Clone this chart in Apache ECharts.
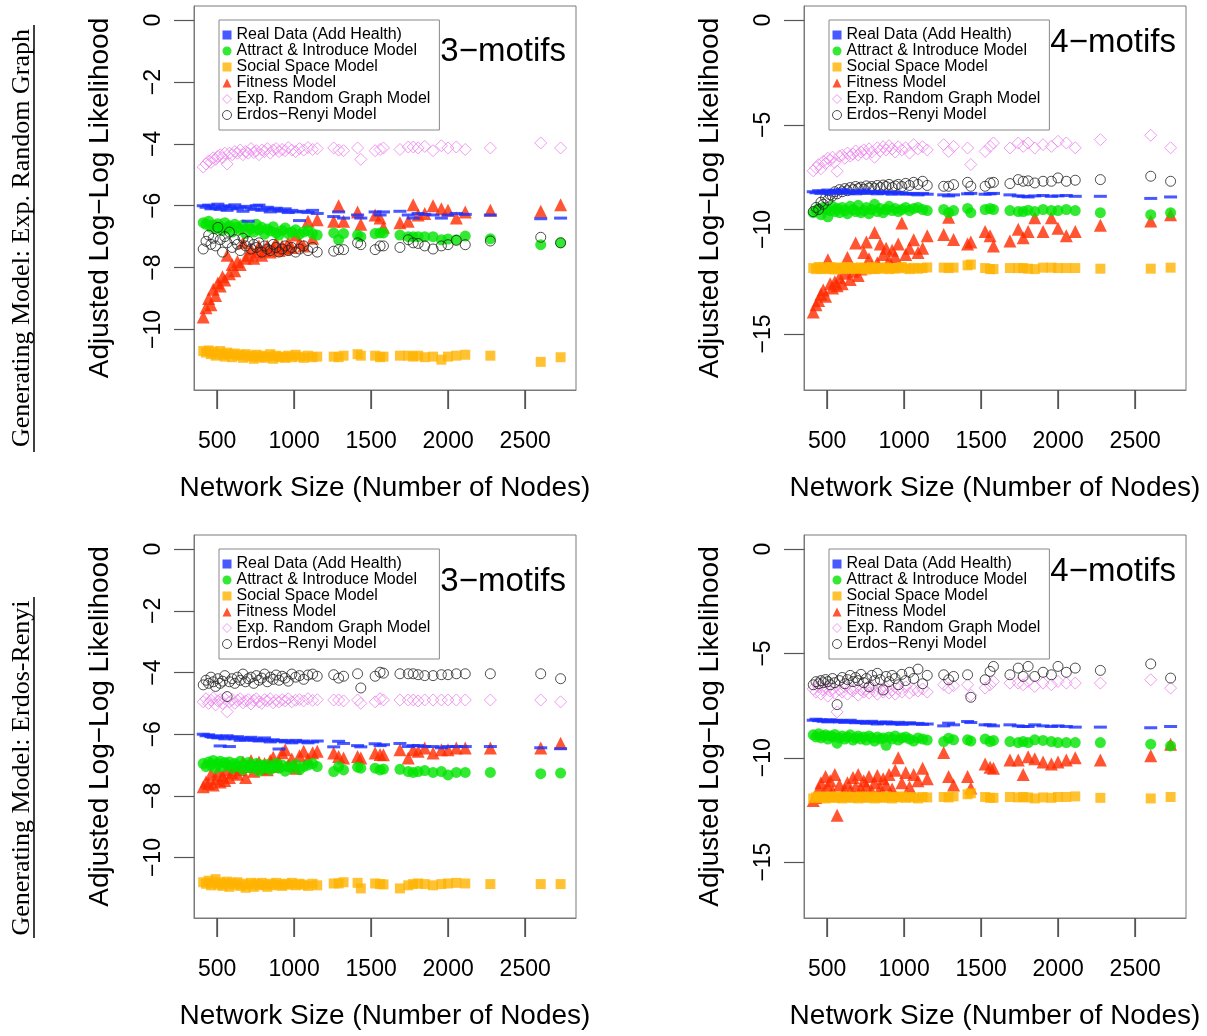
<!DOCTYPE html>
<html lang="en">
<head>
<meta charset="UTF-8">
<title>Adjusted Log-Log Likelihood vs Network Size</title>
<style>
  html, body { margin: 0; padding: 0; background: #fff; }
  #main { width: 1207px; height: 1036px; }
</style>
</head>
<body>
<div id="main"></div>
<script src="https://cdn.jsdelivr.net/npm/echarts@6/dist/echarts.min.js"></script>
<script>
// network sizes (same schools in every panel): 40 dense + 21 sparse
const sizes = [
  410, 428, 445, 460, 475, 490, 505, 520, 535, 550,
  565, 580, 598, 615, 632, 650, 668, 685, 702, 720,
  738, 755, 772, 790, 808, 826, 845, 864, 883, 902,
  922, 942, 962, 985, 1010, 1035, 1062, 1090, 1120, 1150,
  1257, 1289, 1321, 1412, 1433, 1526, 1558, 1580, 1687, 1741,
  1773, 1805, 1848, 1902, 1956, 1999, 2053, 2111, 2274, 2601, 2730
];

// ---- panel A: 3-motifs, generating model Exp. Random Graph
const realA = [
  -6.00, -6.05, -5.98, -6.10, -6.02, -6.08, -5.95, -6.12, -6.05, -6.00,
  -6.15, -6.03, -6.08, -5.97, -6.10, -6.05, -6.18, -6.02, -6.50, -6.08,
  -6.12, -6.00, -5.98, -6.15, -6.10, -6.05, -6.20, -6.12, -6.08, -6.15,
  -6.18, -6.10, -6.22, -6.15, -6.20, -6.48, -6.18, -6.22, -6.15, -6.25,
  -6.35, -6.20, -6.40, -6.30, -6.40, -6.20, -6.30, -6.20, -6.18, -6.30,
  -6.40, -6.25, -6.28, -6.30, -6.40, -6.30, -6.25, -6.28, -6.30, -6.42, -6.40
];
const attrA = [
  -6.55, -6.60, -6.50, -6.70, -6.62, -6.75, -6.58, -6.68, -6.80, -6.55,
  -6.72, -6.65, -6.85, -6.60, -6.70, -6.78, -6.62, -6.90, -6.68, -6.75,
  -6.85, -6.60, -6.78, -6.70, -6.92, -6.75, -6.82, -6.68, -6.88, -6.95,
  -6.80, -6.72, -6.90, -6.85, -6.78, -6.92, -6.85, -6.80, -6.90, -6.95,
  -6.88, -7.10, -6.90, -6.95, -7.00, -6.90, -6.88, -6.88, -6.95, -7.00,
  -7.00, -7.00, -7.00, -7.00, -7.10, -7.08, -7.10, -6.98, -7.07, -7.26, -7.20
];
const socialA = [
  -10.70, -10.75, -10.68, -10.80, -10.72, -10.85, -10.78, -10.70, -10.82, -10.88,
  -10.75, -10.80, -10.90, -10.78, -10.85, -10.82, -10.92, -10.80, -10.88, -10.85,
  -10.95, -10.82, -10.90, -10.85, -10.92, -10.88, -10.80, -10.95, -10.85, -10.90,
  -10.88, -10.92, -10.85, -10.90, -10.82, -10.88, -10.92, -10.85, -10.90, -10.88,
  -10.88, -10.90, -10.85, -10.80, -10.85, -10.85, -10.90, -10.88, -10.85, -10.85,
  -10.88, -10.85, -10.90, -10.88, -10.98, -10.88, -10.85, -10.82, -10.85, -11.05, -10.90
];
const fitnessA = [
  -9.60, -9.30, -9.00, -9.20, -8.70, -8.90, -8.50, -8.60, -8.30, -8.40,
  -7.60, -8.20, -7.90, -8.10, -7.80, -7.90, -7.20, -7.70, -7.60, -7.40,
  -7.70, -7.50, -7.30, -7.60, -7.45, -7.30, -7.50, -7.35, -7.20, -7.45,
  -7.30, -7.40, -7.20, -7.35, -6.95, -7.20, -7.30, -6.50, -7.05, -6.45,
  -6.50, -6.00, -6.50, -6.20, -6.60, -6.30, -6.40, -6.70, -6.55, -6.50,
  -5.97, -6.30, -6.25, -6.00, -6.10, -6.15, -6.40, -6.20, -6.15, -6.18, -5.97
];
const ergA = [
  -4.75, -4.65, -4.55, -4.60, -4.45, -4.50, -4.40, -4.35, -4.45, -4.30,
  -4.65, -4.30, -4.35, -4.25, -4.30, -4.20, -4.35, -4.25, -4.30, -4.15,
  -4.28, -4.22, -4.35, -4.20, -4.25, -4.15, -4.30, -4.20, -4.15, -4.25,
  -4.18, -4.22, -4.12, -4.20, -4.25, -4.15, -4.20, -4.12, -4.18, -4.15,
  -4.13, -4.20, -4.22, -4.13, -4.50, -4.22, -4.18, -4.13, -4.18, -4.10,
  -4.10, -4.13, -4.08, -4.22, -4.06, -4.13, -4.10, -4.18, -4.13, -3.97, -4.13
];
const erA = [
  -7.40, -7.15, -6.95, -7.25, -7.05, -7.30, -6.70, -7.10, -7.50, -7.00,
  -7.20, -6.85, -7.35, -7.10, -7.25, -7.45, -7.05, -7.30, -7.15, -7.40,
  -7.25, -7.35, -7.20, -7.50, -7.30, -7.40, -7.45, -7.25, -7.35, -7.50,
  -7.40, -7.30, -7.45, -7.35, -7.50, -7.40, -7.30, -7.45, -7.35, -7.50,
  -7.47, -7.42, -7.42, -7.20, -7.26, -7.42, -7.30, -7.30, -7.35, -7.10,
  -7.20, -7.22, -7.30, -7.40, -7.30, -7.26, -7.12, -7.26, -7.14, -7.02, -7.20
];

// ---- panel B: 4-motifs, generating model Exp. Random Graph
const realB = [
  -8.20, -8.25, -8.15, -8.28, -8.18, -8.22, -8.12, -8.30, -8.20, -8.15,
  -8.25, -8.18, -8.10, -8.28, -8.20, -8.15, -8.25, -8.30, -8.18, -8.22,
  -8.12, -8.28, -8.20, -8.25, -8.18, -8.30, -8.22, -8.28, -8.20, -8.25,
  -8.32, -8.22, -8.28, -8.25, -8.32, -8.28, -8.30, -8.35, -8.28, -8.32,
  -8.35, -8.40, -8.35, -8.30, -8.28, -8.32, -8.30, -8.28, -8.35, -8.40,
  -8.42, -8.45, -8.40, -8.38, -8.42, -8.40, -8.38, -8.42, -8.42, -8.52, -8.45
];
const attrB = [
  -9.20, -9.10, -9.00, -9.30, -8.95, -9.05, -9.40, -9.10, -8.90, -9.15,
  -9.00, -9.20, -8.95, -9.10, -9.25, -8.90, -9.05, -9.15, -8.85, -9.20,
  -9.10, -8.95, -9.25, -9.05, -8.80, -9.15, -9.00, -9.20, -9.05, -8.90,
  -9.10, -9.00, -9.15, -9.05, -8.95, -9.10, -9.00, -8.95, -9.05, -9.10,
  -9.05, -9.20, -9.10, -9.00, -9.20, -9.05, -9.00, -9.05, -9.10, -9.15,
  -9.15, -9.08, -9.15, -9.05, -9.10, -9.10, -9.05, -9.10, -9.20, -9.30, -9.20
];
const socialB = [
  -11.85, -11.90, -11.80, -11.88, -11.82, -11.90, -11.85, -11.80, -11.88, -11.92,
  -11.85, -11.82, -11.90, -11.86, -11.80, -11.88, -11.84, -11.90, -11.85, -11.82,
  -11.88, -11.92, -11.85, -11.80, -11.90, -11.86, -11.84, -11.88, -11.82, -11.90,
  -11.85, -11.88, -11.84, -11.80, -11.86, -11.90, -11.84, -11.88, -11.85, -11.82,
  -11.83, -11.85, -11.83, -11.72, -11.68, -11.85, -11.90, -11.90, -11.85, -11.85,
  -11.85, -11.88, -11.90, -11.83, -11.83, -11.85, -11.85, -11.85, -11.88, -11.88, -11.83
];
const fitnessB = [
  -13.95, -13.60, -13.40, -13.10, -12.90, -13.20, -11.45, -12.60, -12.80, -12.50,
  -12.70, -12.30, -12.60, -12.10, -11.35, -12.40, -12.00, -10.65, -12.20, -11.90,
  -11.10, -10.60, -11.40, -11.80, -10.15, -11.60, -10.70, -11.20, -10.90, -11.50,
  -11.00, -11.30, -10.70, -9.70, -11.20, -10.90, -10.50, -11.10, -10.90, -10.30,
  -10.24, -9.42, -10.48, -10.70, -10.60, -10.10, -10.30, -10.80, -10.56, -10.00,
  -10.40, -10.10, -9.45, -10.10, -9.45, -9.95, -10.30, -10.10, -9.80, -9.60, -9.30
];
const ergB = [
  -7.20, -7.05, -6.90, -7.10, -6.75, -6.85, -6.60, -6.70, -6.55, -6.80,
  -7.22, -6.50, -6.45, -6.60, -6.35, -6.50, -6.40, -6.25, -6.45, -6.30,
  -6.20, -6.40, -6.15, -6.30, -6.55, -6.10, -6.25, -6.05, -6.20, -6.00,
  -6.15, -6.30, -6.05, -6.20, -6.10, -6.35, -5.95, -6.15, -6.05, -6.20,
  -5.95, -6.27, -6.03, -6.11, -6.90, -6.27, -6.03, -5.87, -6.11, -5.87,
  -6.03, -5.87, -6.11, -5.95, -6.03, -5.79, -5.87, -6.10, -5.71, -5.50, -6.10
];
const erB = [
  -9.15, -8.95, -9.05, -8.70, -8.80, -8.50, -8.60, -8.35, -8.40, -8.20,
  -8.30, -8.10, -8.20, -8.05, -8.15, -8.00, -8.10, -7.95, -8.05, -7.98,
  -8.08, -7.92, -8.02, -7.95, -8.05, -7.90, -8.00, -7.88, -7.95, -7.85,
  -8.00, -7.92, -7.85, -7.95, -7.80, -7.90, -7.75, -7.85, -7.70, -7.90,
  -7.94, -7.94, -7.86, -7.75, -7.94, -7.94, -7.78, -7.75, -7.81, -7.62,
  -7.70, -7.68, -7.78, -7.70, -7.70, -7.54, -7.70, -7.65, -7.62, -7.46, -7.70
];

// ---- panel C: 3-motifs, generating model Erdos-Renyi
const realC = [
  -6.00, -6.05, -6.02, -6.08, -6.10, -6.05, -6.12, -6.38, -6.08, -6.15,
  -6.05, -6.40, -6.10, -6.15, -6.08, -6.20, -6.12, -6.18, -6.15, -6.10,
  -6.20, -6.15, -6.22, -6.18, -6.12, -6.20, -6.25, -6.18, -6.22, -6.48,
  -6.20, -6.25, -6.22, -6.28, -6.20, -6.25, -6.22, -6.28, -6.25, -6.22,
  -6.41, -6.23, -6.30, -6.37, -6.41, -6.31, -6.37, -6.34, -6.30, -6.40,
  -6.37, -6.37, -6.40, -6.40, -6.44, -6.40, -6.40, -6.40, -6.40, -6.44, -6.47
];
const attrC = [
  -6.95, -7.05, -6.90, -7.00, -6.85, -7.10, -6.95, -6.88, -7.05, -6.92,
  -7.00, -6.90, -7.10, -6.95, -7.05, -6.88, -7.15, -7.00, -6.92, -7.10,
  -7.05, -6.95, -7.20, -7.00, -7.10, -6.98, -7.15, -7.05, -6.95, -7.10,
  -7.00, -7.20, -7.05, -7.10, -6.98, -7.15, -7.05, -7.00, -6.95, -7.05,
  -7.21, -7.05, -7.16, -7.07, -7.10, -7.10, -7.16, -7.13, -7.14, -7.21,
  -7.24, -7.21, -7.18, -7.24, -7.21, -7.32, -7.24, -7.24, -7.24, -7.28, -7.26
];
const socialC = [
  -10.80, -10.85, -10.75, -10.90, -10.82, -10.70, -10.88, -10.80, -10.92, -10.85,
  -10.78, -10.95, -10.82, -10.88, -10.80, -10.92, -10.85, -10.98, -10.88, -10.82,
  -10.95, -10.85, -10.90, -10.82, -10.88, -10.95, -10.85, -10.90, -10.82, -10.88,
  -10.92, -10.85, -10.88, -10.82, -10.90, -10.85, -10.88, -10.92, -10.85, -10.90,
  -10.84, -10.84, -10.80, -10.82, -11.00, -10.84, -10.86, -10.87, -11.00, -10.90,
  -10.86, -10.84, -10.86, -10.90, -10.86, -10.84, -10.82, -10.84, -10.86, -10.86, -10.86
];
const fitnessC = [
  -7.70, -7.55, -7.60, -7.30, -7.65, -7.45, -7.20, -7.55, -7.35, -7.50,
  -7.15, -7.40, -7.25, -7.05, -7.30, -7.15, -6.90, -7.40, -7.05, -6.85,
  -7.20, -7.00, -6.90, -7.10, -6.95, -7.15, -6.85, -6.75, -7.05, -6.90,
  -6.60, -6.50, -7.00, -6.80, -7.10, -6.70, -6.55, -6.80, -6.60, -6.55,
  -6.61, -6.72, -6.77, -6.72, -6.77, -6.61, -6.66, -6.67, -6.50, -6.77,
  -6.50, -6.55, -6.45, -6.61, -6.50, -6.50, -6.45, -6.45, -6.45, -6.45, -6.29
];
const ergC = [
  -4.95, -4.85, -5.00, -4.90, -4.82, -5.05, -4.92, -4.88, -5.00, -4.85,
  -5.27, -4.95, -4.88, -5.00, -4.90, -4.85, -4.98, -4.92, -4.88, -5.02,
  -4.90, -4.85, -4.95, -5.00, -4.88, -4.92, -4.85, -4.98, -4.90, -4.95,
  -4.88, -4.92, -4.85, -4.95, -4.90, -4.88, -4.92, -4.85, -4.90, -4.88,
  -4.89, -4.89, -4.92, -4.89, -5.00, -4.95, -4.85, -4.89, -4.89, -4.89,
  -4.89, -4.92, -4.89, -4.89, -4.89, -4.89, -4.89, -4.89, -4.89, -4.89, -4.95
];
const erC = [
  -4.40, -4.25, -4.35, -4.15, -4.30, -4.45, -4.20, -4.35, -4.28, -4.10,
  -4.78, -4.30, -4.20, -4.35, -4.15, -4.25, -4.05, -4.30, -4.20, -4.15,
  -4.35, -4.10, -4.25, -4.18, -4.05, -4.30, -4.15, -4.22, -4.08, -4.25,
  -4.12, -4.18, -4.28, -4.05, -4.15, -4.10, -4.22, -4.08, -4.05, -4.12,
  -4.07, -4.18, -4.12, -4.04, -4.50, -4.12, -3.99, -4.02, -4.04, -4.04,
  -4.04, -4.07, -4.10, -4.10, -4.07, -4.07, -4.04, -4.04, -4.04, -4.04, -4.20
];

// ---- panel D: 4-motifs, generating model Erdos-Renyi
const realD = [
  -8.20, -8.15, -8.22, -8.18, -8.25, -8.20, -8.28, -8.18, -8.22, -8.25,
  -8.20, -8.28, -8.22, -8.30, -8.25, -8.20, -8.28, -8.32, -8.25, -8.30,
  -8.28, -8.35, -8.30, -8.25, -8.32, -8.38, -8.30, -8.35, -8.28, -8.32,
  -8.38, -8.35, -8.30, -8.40, -8.35, -8.32, -8.38, -8.35, -8.40, -8.38,
  -8.47, -8.34, -8.42, -8.26, -8.31, -8.42, -8.42, -8.47, -8.42, -8.47,
  -8.50, -8.50, -8.42, -8.47, -8.50, -8.47, -8.50, -8.53, -8.53, -8.56, -8.50
];
const attrD = [
  -8.90, -9.00, -8.85, -9.05, -8.95, -8.90, -9.10, -8.95, -9.00, -8.88,
  -9.30, -9.05, -8.95, -9.10, -9.00, -8.90, -9.15, -9.05, -8.95, -9.10,
  -9.00, -9.15, -8.95, -9.05, -9.20, -9.00, -9.10, -9.05, -9.40, -9.00,
  -9.10, -8.95, -9.15, -9.05, -9.00, -9.10, -9.20, -9.05, -9.10, -9.15,
  -9.22, -9.06, -9.14, -9.14, -9.20, -9.10, -9.22, -9.17, -9.22, -9.27,
  -9.22, -9.27, -9.14, -9.17, -9.22, -9.27, -9.27, -9.27, -9.27, -9.35, -9.43
];
const socialD = [
  -11.95, -11.90, -11.85, -11.92, -11.88, -11.95, -11.85, -11.90, -11.88, -11.92,
  -11.85, -11.90, -11.95, -11.88, -11.85, -11.92, -11.90, -11.88, -11.95, -11.85,
  -11.90, -11.92, -11.88, -11.85, -11.95, -11.90, -11.88, -11.92, -11.85, -11.90,
  -11.95, -11.88, -11.90, -11.85, -11.92, -11.88, -11.90, -11.95, -11.88, -11.90,
  -11.88, -11.90, -11.85, -11.75, -11.70, -11.88, -11.92, -11.92, -11.88, -11.90,
  -11.88, -11.90, -11.95, -11.90, -11.92, -11.88, -11.88, -11.85, -11.92, -11.95, -11.88
];
const fitnessD = [
  -12.05, -11.90, -11.50, -11.20, -11.70, -10.90, -11.40, -11.10, -11.60, -10.80,
  -12.75, -11.30, -11.80, -11.55, -11.20, -11.60, -10.95, -11.40, -10.80, -11.50,
  -11.10, -11.35, -10.90, -11.60, -11.20, -10.85, -11.45, -11.00, -11.30, -10.80,
  -11.50, -10.60, -10.00, -11.20, -10.70, -11.40, -10.80, -11.10, -10.50, -11.00,
  -9.75, -10.90, -11.30, -10.90, -11.45, -10.30, -10.45, -10.50, -10.10, -10.10,
  -10.80, -9.95, -10.05, -10.20, -10.30, -10.20, -10.10, -10.00, -10.10, -9.90, -9.35
];
const ergD = [
  -6.70, -6.85, -6.60, -6.95, -6.75, -6.65, -7.05, -6.80, -6.70, -6.90,
  -7.80, -6.75, -6.85, -6.60, -6.95, -6.70, -6.80, -6.65, -7.00, -6.75,
  -6.85, -6.70, -6.90, -6.60, -6.80, -6.95, -6.70, -6.85, -6.65, -6.90,
  -6.75, -6.95, -6.70, -6.85, -6.60, -6.90, -6.75, -6.80, -6.70, -6.85,
  -6.50, -6.66, -6.55, -6.50, -7.00, -6.66, -6.50, -6.34, -6.42, -6.42,
  -6.50, -6.34, -6.58, -6.42, -6.50, -6.34, -6.42, -6.42, -6.42, -6.26, -6.66
];
const erD = [
  -6.50, -6.35, -6.45, -6.30, -6.40, -6.25, -6.35, -6.50, -6.20, -6.40,
  -7.45, -6.30, -6.15, -6.45, -6.25, -6.05, -6.35, -6.15, -6.30, -6.00,
  -6.40, -6.20, -6.60, -6.05, -6.30, -5.95, -6.25, -6.75, -6.10, -6.35,
  -6.05, -6.20, -6.50, -6.00, -6.30, -5.90, -6.20, -5.75, -6.45, -6.05,
  -6.02, -6.26, -6.10, -6.02, -7.10, -6.26, -5.86, -5.62, -6.02, -5.70,
  -6.10, -5.62, -6.10, -5.90, -6.02, -5.62, -5.90, -5.70, -5.81, -5.50, -6.18
];

const xTicks = [500, 1000, 1500, 2000, 2500];
const yTicks3 = [0, -2, -4, -6, -8, -10];
const yTicks4 = [0, -5, -10, -15];
const X_MIN = 350, X_MAX = 2830;

const FONT = '"Liberation Sans", Arial, Helvetica, sans-serif';
const SERIF = '"Liberation Serif", "Times New Roman", serif';

const NAMES = {
  real: 'Real Data (Add Health)',
  attr: 'Attract & Introduce Model',
  social: 'Social Space Model',
  fitness: 'Fitness Model',
  erg: 'Exp. Random Graph Model',
  er: 'Erdos\u2212Renyi Model'
};
const STYLE = {
  real:    { symbol: 'rect', size: [13, 3], itemStyle: { color: '#1a30ff' } },
  attr:    { symbol: 'circle', size: 11, itemStyle: { color: '#00e400' } },
  social:  { symbol: 'rect', size: 10, itemStyle: { color: '#ffb300' } },
  fitness: { symbol: 'triangle', size: 13, itemStyle: { color: '#ff2a00' } },
  erg:     { symbol: 'diamond', size: 12, itemStyle: { color: 'rgba(0,0,0,0)', borderColor: '#ee82ee', borderWidth: 1 } },
  er:      { symbol: 'circle', size: 10, itemStyle: { color: 'rgba(0,0,0,0)', borderColor: '#222', borderWidth: 1 } }
};
const legendOrder = ['real', 'attr', 'social', 'fitness', 'erg', 'er'];
const drawOrder = ['fitness', 'social', 'attr', 'erg', 'er', 'real'];

const panels = [
  { grid: { left: 194, top: 6, width: 382, height: 384 }, yMin: -11.96, yMax: 0.46, yTicks: yTicks3,
    motif: '3\u2212motifs', motifY: 52, legendPos: { left: 219, top: 20 },
    data: { real: realA, attr: attrA, social: socialA, fitness: fitnessA, erg: ergA, er: erA } },
  { grid: { left: 804, top: 6, width: 382, height: 384 }, yMin: -17.68, yMax: 0.68, yTicks: yTicks4,
    motif: '4\u2212motifs', motifY: 43, legendPos: { left: 829, top: 20 },
    data: { real: realB, attr: attrB, social: socialB, fitness: fitnessB, erg: ergB, er: erB } },
  { grid: { left: 194, top: 535, width: 382, height: 383 }, yMin: -11.96, yMax: 0.46, yTicks: yTicks3,
    motif: '3\u2212motifs', motifY: 582, legendPos: { left: 219, top: 549 },
    data: { real: realC, attr: attrC, social: socialC, fitness: fitnessC, erg: ergC, er: erC } },
  { grid: { left: 804, top: 535, width: 382, height: 383 }, yMin: -17.68, yMax: 0.68, yTicks: yTicks4,
    motif: '4\u2212motifs', motifY: 572, legendPos: { left: 829, top: 549 },
    data: { real: realD, attr: attrD, social: socialD, fitness: fitnessD, erg: ergD, er: erD } }
];

const minus = v => (v < 0 ? '\u2212' + Math.abs(v) : String(v));

const grid = [], xAxis = [], yAxis = [], series = [], legend = [], graphic = [];

panels.forEach((p, i) => {
  grid.push(Object.assign({ show: true, borderColor: '#7a7a7a', borderWidth: 1 }, p.grid));

  xAxis.push({
    type: 'value', gridIndex: i, min: X_MIN, max: X_MAX,
    axisLine: { show: true, onZero: false, lineStyle: { color: '#7a7a7a', width: 1 } },
    splitLine: { show: false },
    axisTick: { show: true, inside: false, length: 19, customValues: xTicks, lineStyle: { color: '#555', width: 1.5 } },
    axisLabel: { customValues: xTicks, fontSize: 23, margin: 40, color: '#000', fontFamily: FONT,
                 formatter: v => String(v) },
    name: 'Network Size (Number of Nodes)', nameLocation: 'middle', nameGap: 84,
    nameTextStyle: { fontSize: 28, color: '#000', fontFamily: FONT }
  });

  yAxis.push({
    type: 'value', gridIndex: i, min: p.yMin, max: p.yMax,
    axisLine: { show: true, onZero: false, lineStyle: { color: '#7a7a7a', width: 1 } },
    splitLine: { show: false },
    axisTick: { show: true, inside: false, length: 20, customValues: p.yTicks, lineStyle: { color: '#555', width: 1.2 } },
    axisLabel: { customValues: p.yTicks, rotate: 90, fontSize: 23, margin: 29, color: '#000', fontFamily: FONT, formatter: minus },
    name: 'Adjusted Log\u2212Log Likelihood', nameLocation: 'middle', nameGap: 80,
    nameTextStyle: { fontSize: 28, color: '#000', fontFamily: FONT }
  });

  drawOrder.forEach(k => {
    const st = STYLE[k];
    series.push({
      type: 'scatter', name: NAMES[k], xAxisIndex: i, yAxisIndex: i,
      symbol: st.symbol, symbolSize: st.size, itemStyle: st.itemStyle,
      data: sizes.map((x, j) => [x, p.data[k][j]])
    });
  });

  legend.push({
    left: p.legendPos.left, top: p.legendPos.top, orient: 'vertical',
    itemWidth: 9, itemHeight: 9, itemGap: 0, selectedMode: false,
    padding: [7, 9, 7, 3], borderColor: '#888', borderWidth: 1, backgroundColor: '#fff',
    textStyle: { fontSize: 16, lineHeight: 16, color: '#000', fontFamily: FONT },
    data: legendOrder.map(k => ({ name: NAMES[k], icon: STYLE[k].symbol, itemStyle: STYLE[k].itemStyle }))
  });

  graphic.push({
    type: 'text', x: p.grid.left + p.grid.width - 10, y: p.motifY,
    style: { text: p.motif, font: '33px ' + FONT, fill: '#000', align: 'right', verticalAlign: 'middle',
             textAlign: 'right', textVerticalAlign: 'middle' }
  });
});

// row labels on the left (serif, underlined)
const rowLabels = [
  { text: 'Generating Model: Exp. Random Graph', cy: 238, y1: 25, y2: 452 },
  { text: 'Generating Model: Erdos-Renyi', cy: 768, y1: 597, y2: 938 }
];
rowLabels.forEach(r => {
  graphic.push({
    type: 'text', x: 22, y: r.cy, rotation: Math.PI / 2,
    style: { text: r.text, font: '26px ' + SERIF, fill: '#000', align: 'center', verticalAlign: 'middle',
             textAlign: 'center', textVerticalAlign: 'middle' }
  });
  graphic.push({
    type: 'line', shape: { x1: 34, y1: r.y1, x2: 34, y2: r.y2 },
    style: { stroke: '#000', lineWidth: 1.5 }
  });
});

const myChart = echarts.init(document.getElementById('main'));
myChart.setOption({
  animation: false,
  backgroundColor: '#fff',
  grid, xAxis, yAxis, series, legend, graphic
});

// long outward x ticks under each box (R style), positioned by the x scale
panels.forEach((p, i) => {
  const bottom = p.grid.top + p.grid.height;
  xTicks.forEach(v => {
    let px = myChart.convertToPixel({ xAxisIndex: i }, v);
    if (typeof px !== 'number' || isNaN(px)) {
      px = p.grid.left + (v - X_MIN) / (X_MAX - X_MIN) * p.grid.width;
    }
    px = Math.round(px) + 0.5;
    graphic.push({
      type: 'line', silent: true, z: 100,
      shape: { x1: px, y1: bottom, x2: px, y2: bottom + 19 },
      style: { stroke: '#555', lineWidth: 1.2 }
    });
  });
});
myChart.setOption({ graphic: { elements: graphic } });
</script>
</body>
</html>
